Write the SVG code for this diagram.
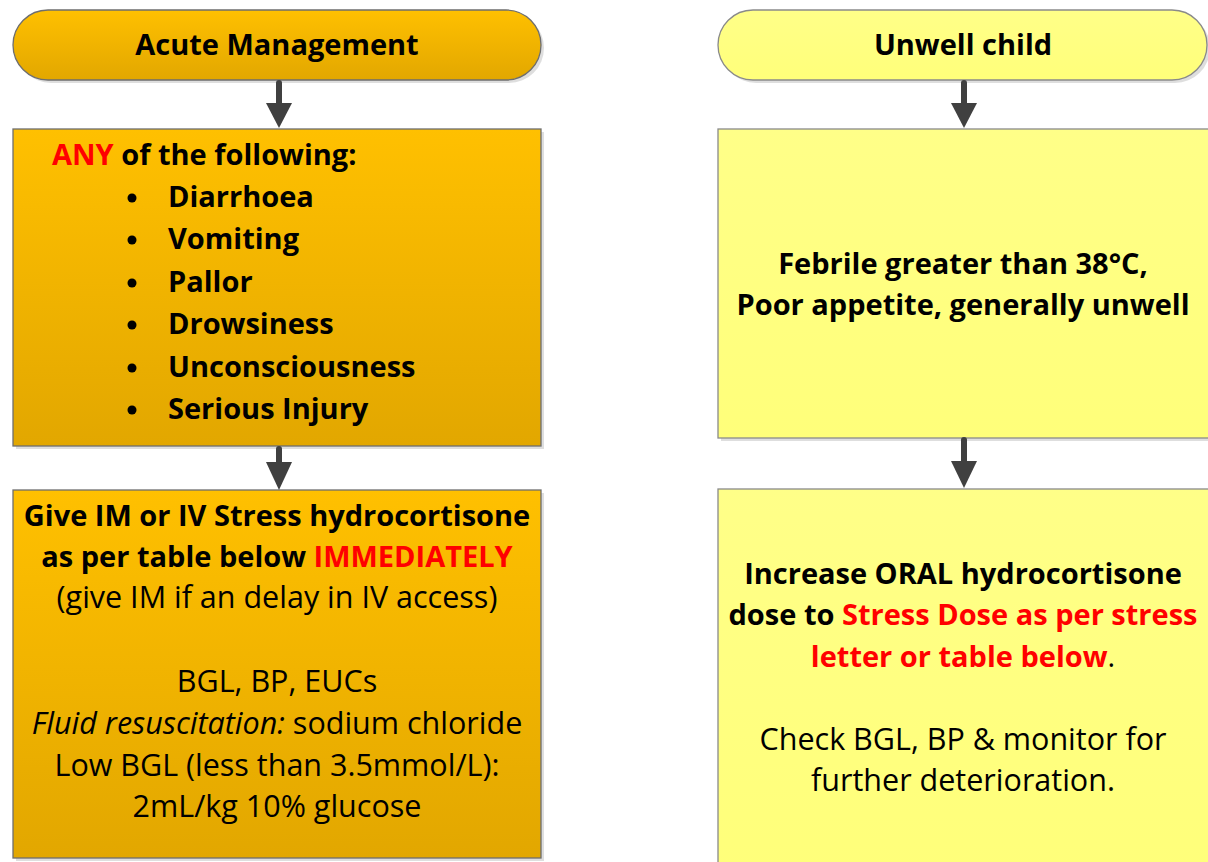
<svg xmlns="http://www.w3.org/2000/svg" width="1208" height="862" viewBox="0 0 1208 862">
<defs>
<linearGradient id="gOr" x1="0" y1="0" x2="0" y2="1">
<stop offset="0" stop-color="#FFC000"/>
<stop offset="1" stop-color="#E2A700"/>
</linearGradient>
<linearGradient id="gYe" x1="0" y1="0" x2="0" y2="1">
<stop offset="0" stop-color="#FFFF88"/>
<stop offset="1" stop-color="#FFFF7A"/>
</linearGradient>
<style>
.or{fill:url(#gOr);stroke:#6E6E6E;stroke-width:1.3}
.ye{fill:url(#gYe);stroke:#8A8A8A;stroke-width:1.3}
.sh{fill:#000;opacity:0.13}
.t{font-family:"Open Sans","Noto Sans",sans-serif;font-size:30.5px;fill:#000}
.b{font-weight:bold;font-size:29px}
.r{fill:#FF0000}
.c{text-anchor:middle}
.ln{stroke:#404040;stroke-width:6;stroke-linecap:round;fill:none}
.hd{fill:#404040}
</style>
</defs>

<g id="acute-management">
<rect class="sh" x="16" y="13" width="528" height="70" rx="35"/>
<rect class="or" x="13" y="10" width="528" height="70" rx="35"/>
<text class="t b c" x="277" y="55">Acute Management</text>
</g>

<g id="any-following">
<rect class="sh" x="16" y="132" width="528" height="317"/>
<rect class="or" x="13" y="129" width="528" height="317"/>
<text class="t b" x="52" y="165"><tspan class="r">ANY</tspan> of the following:</text>
<g>
<circle cx="132" cy="198" r="4.5"/>
<circle cx="132" cy="240" r="4.5"/>
<circle cx="132" cy="283" r="4.5"/>
<circle cx="132" cy="325" r="4.5"/>
<circle cx="132" cy="368" r="4.5"/>
<circle cx="132" cy="410" r="4.5"/>
</g>
<text class="t b" x="168" y="207">Diarrhoea</text>
<text class="t b" x="168" y="249">Vomiting</text>
<text class="t b" x="168" y="292">Pallor</text>
<text class="t b" x="168" y="334">Drowsiness</text>
<text class="t b" x="168" y="377">Unconsciousness</text>
<text class="t b" x="168" y="419">Serious Injury</text>
</g>

<g id="give-hydrocortisone">
<rect class="sh" x="16" y="493" width="528" height="368"/>
<rect class="or" x="13" y="490" width="528" height="368"/>
<text class="t b c" x="277" y="526">Give IM or IV Stress hydrocortisone</text>
<text class="t b c" x="277" y="567">as per table below <tspan class="r">IMMEDIATELY</tspan></text>
<text class="t c" x="277" y="608">(give IM if an delay in IV access)</text>
<text class="t c" x="277" y="692">BGL, BP, EUCs</text>
<text class="t c" x="277" y="734"><tspan font-style="italic">Fluid resuscitation:</tspan> sodium chloride</text>
<text class="t c" x="277" y="776">Low BGL (less than 3.5mmol/L):</text>
<text class="t c" x="277" y="817">2mL/kg 10% glucose</text>
</g>

<g id="unwell-child">
<rect class="sh" x="721" y="13" width="489" height="70" rx="35"/>
<rect class="ye" x="718" y="10" width="489" height="70" rx="35"/>
<text class="t b c" x="963" y="55">Unwell child</text>
</g>

<g id="febrile">
<rect class="sh" x="721" y="132" width="500" height="309"/>
<rect class="ye" x="718" y="129" width="500" height="309"/>
<text class="t b c" x="963" y="274">Febrile greater than 38°C,</text>
<text class="t b c" x="963" y="315">Poor appetite, generally unwell</text>
</g>

<g id="increase-oral">
<rect class="sh" x="721" y="492" width="500" height="380"/>
<rect class="ye" x="718" y="489" width="500" height="380"/>
<text class="t b c" x="963" y="584">Increase ORAL hydrocortisone</text>
<text class="t b c" x="963" y="625">dose to <tspan class="r">Stress Dose as per stress</tspan></text>
<text class="t b c" x="963" y="667"><tspan class="r">letter or table below</tspan><tspan font-weight="normal">.</tspan></text>
<text class="t c" x="963" y="750">Check BGL, BP &amp; monitor for</text>
<text class="t c" x="963" y="791">further deterioration.</text>
</g>

<g id="connectors">
<line class="ln" x1="279" y1="83" x2="279" y2="106"/>
<polygon class="hd" points="266,103 292,103 279,128"/>
<line class="ln" x1="279" y1="449" x2="279" y2="465"/>
<polygon class="hd" points="266,462 292,462 279,490"/>
<line class="ln" x1="964" y1="83" x2="964" y2="106"/>
<polygon class="hd" points="951,103 977,103 964,128"/>
<line class="ln" x1="964" y1="440" x2="964" y2="464"/>
<polygon class="hd" points="951,461 977,461 964,488"/>
</g>
</svg>
